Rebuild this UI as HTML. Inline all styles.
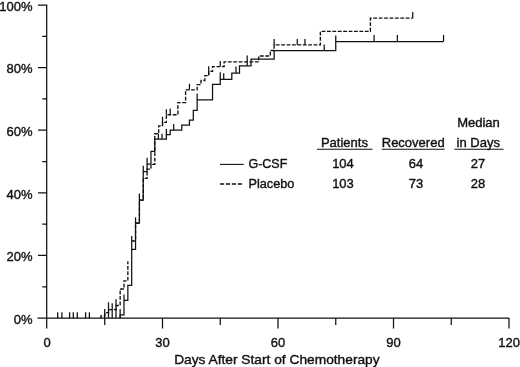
<!DOCTYPE html>
<html><head><meta charset="utf-8"><title>Recovery curve</title>
<style>
html,body{margin:0;padding:0;background:#fff;}
svg{display:block;}
text{font-family:"Liberation Sans",Arial,sans-serif;font-size:13px;fill:#111111;stroke:#111111;stroke-width:0.38px;}
</style></head>
<body>
<svg width="520" height="367" viewBox="0 0 520 367">
<rect x="0" y="0" width="520" height="367" fill="#ffffff"/>
<g fill="none" stroke="#111111" stroke-width="1.25">
<path d="M46.70 4.40 V328.40 M37.50 318.05 H509.00 M42.30 286.75 H46.70 M38.00 255.44 H46.70 M42.30 224.13 H46.70 M38.00 192.83 H46.70 M42.30 161.53 H46.70 M38.00 130.22 H46.70 M42.30 98.92 H46.70 M38.00 67.61 H46.70 M42.30 36.31 H46.70 M38.00 5.00 H46.70 M104.75 318.05 V325.00 M162.50 318.05 V328.40 M220.25 318.05 V325.00 M278.00 318.05 V328.40 M335.75 318.05 V325.00 M393.50 318.05 V328.40 M451.25 318.05 V325.00 M509.00 318.05 V328.40"/>
<g transform="translate(0,0.3)"><path d="M120.15 318.05 V314.50 H124.00 V300.00 H127.85 V285.00 H131.70 V249.00 H135.55 V222.90 H139.40 V199.80 H143.25 V171.20 H147.10 V163.90 H150.95 V151.00 H154.80 V138.70 H166.35 V134.30 H170.20 V129.90 H181.75 V124.80 H189.45 V119.90 H193.30 V110.10 H197.15 V99.50 H212.55 V84.00 H220.25 V79.10 H231.80 V72.80 H239.50 V65.60 H251.05 V58.70 H274.15 V50.20 H335.75 V41.20 H443.55"/>
<path d="M100.90 318.05 V315.50 H104.75 V312.40 H108.60 V309.30 H116.30 V305.20 H120.15 V288.70 H124.00 V280.50 H127.85 V261.00 M131.70 240.70 H135.55 V222.90 H139.40 V199.80 H143.25 V178.00 H147.10 V168.80 H150.95 V164.00 H154.80 V133.40 H158.65 V125.60 H162.50 V122.00 H166.35 V114.40 H177.90 V102.30 H185.60 V89.50 H197.15 V84.30 H201.00 V80.20 H204.85 V75.30 H208.70 V71.00 H212.55 V66.30 H224.10 V61.50 H258.75 V55.70 H270.30 V50.20 H274.15 V44.60 H320.35 V31.00 H370.40 V17.90 H412.75" stroke-dasharray="3.8 1.6" stroke-width="1.35"/>
<path d="M57.70 318.05 V312.00 M61.90 318.05 V312.00 M69.60 318.05 V312.00 M73.30 318.05 V312.00 M77.30 318.05 V312.00 M85.60 318.05 V312.00 M89.40 318.05 V312.00 M104.70 318.05 V308.70 M108.50 318.05 V302.00 M112.20 318.05 V303.00 M116.00 318.05 V299.00 M131.70 249.00 V235.70 M135.55 222.90 V217.00 M139.40 199.80 V193.30 M143.25 171.20 V165.50 M147.10 163.90 V157.40 M158.40 138.70 V133.50 M162.00 138.70 V133.50 M166.35 134.30 V128.60 M173.70 129.90 V123.70 M197.15 99.50 V93.30 M220.25 79.10 V72.00 M223.70 79.10 V72.90 M236.00 72.80 V66.30 M247.20 65.60 V55.10 M324.20 50.20 V44.10 M335.75 41.20 V35.10 M374.10 41.20 V34.80 M397.35 41.20 V34.80 M443.55 41.20 V34.80 M189.45 89.50 V83.50 M208.70 75.30 V66.00 M220.25 66.30 V60.60 M274.15 44.60 V38.80 M297.25 44.60 V38.60 M304.95 44.60 V38.60 M412.75 17.90 V11.70 M166.35 114.40 V109.00 M170.20 114.40 V108.20 M162.50 125.30 V116.40 M120.15 318.05 V308.70 M124.00 300.00 V294.20"/></g>
<path d="M220 164.4 H243.7" stroke-width="1.1"/>
<path d="M220 184.0 H242.1" stroke-dasharray="4.2 1.75" stroke-width="1.4"/>
<path d="M317 149.25 H372.5 M381.8 149.25 H444.7 M454.4 149.25 H503.5" stroke-width="1.1"/>
</g>
<g text-anchor="end" style="font-size:12.6px">
<text x="32.5" y="10.8">100%</text>
<text x="32.5" y="73.3">80%</text>
<text x="32.5" y="135.9">60%</text>
<text x="32.5" y="198.5">40%</text>
<text x="32.5" y="261.1">20%</text>
<text x="32.5" y="323.8">0%</text>
</g>
<g text-anchor="middle">
<text x="47.0" y="346.6">0</text>
<text x="162.5" y="346.6">30</text>
<text x="278.0" y="346.6">60</text>
<text x="393.5" y="346.6">90</text>
<text x="509.2" y="346.6">120</text>
<text x="276.9" y="363.7" style="font-size:13.6px" textLength="205.5" lengthAdjust="spacingAndGlyphs">Days After Start of Chemotherapy</text>
<text x="344.4" y="147.0">Patients</text>
<text x="413.2" y="147.0">Recovered</text>
<text x="478.5" y="126.9">Median</text>
<text x="478.3" y="147.0">in Days</text>
<text x="343" y="167.8">104</text>
<text x="416" y="167.8">64</text>
<text x="478" y="167.8">27</text>
<text x="343" y="187.7">103</text>
<text x="416" y="187.7">73</text>
<text x="478" y="187.7">28</text>
</g>
<text x="248.4" y="167.7" textLength="39" lengthAdjust="spacingAndGlyphs">G-CSF</text>
<text x="248.4" y="187.7" textLength="46" lengthAdjust="spacingAndGlyphs">Placebo</text>
</svg>
</body></html>
